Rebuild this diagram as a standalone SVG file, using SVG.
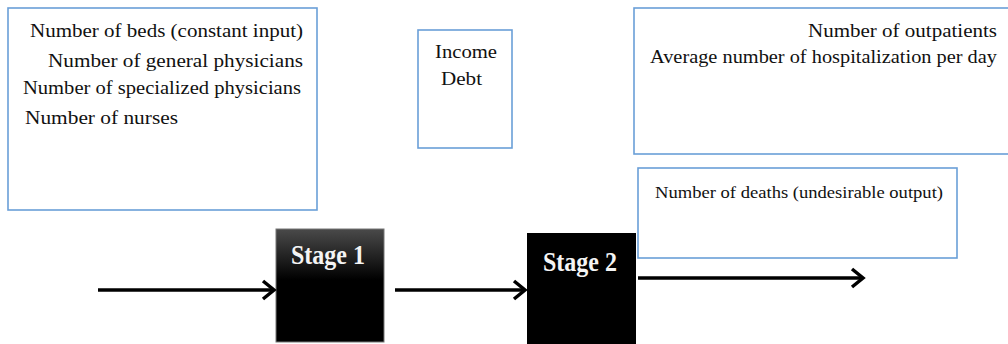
<svg xmlns="http://www.w3.org/2000/svg" width="1008" height="344" viewBox="0 0 1008 344">
<style>
.box{fill:#fff;stroke:#6a9fd8;stroke-width:1.6}
.t{font-family:"Liberation Serif","Times New Roman",serif;font-size:19px;fill:#111}
.ts{font-family:"Liberation Serif","Times New Roman",serif;font-size:27px;font-weight:bold;fill:#f4f4f4}
.arr{stroke:#000;stroke-width:3.5;fill:none}
</style>
<defs>
<linearGradient id="g1" x1="0" y1="0" x2="0" y2="1">
<stop offset="0" stop-color="#4a4a4a"/>
<stop offset="0.45" stop-color="#000"/>
<stop offset="1" stop-color="#000"/>
</linearGradient>
<marker id="ah" markerUnits="userSpaceOnUse" markerWidth="20" markerHeight="24" refX="14" refY="12" orient="auto" viewBox="0 0 20 24">
<path d="M3 3 L14 12 L3 21" fill="none" stroke="#000" stroke-width="3.5"/>
</marker>
</defs>
<g id="inputs">
<rect class="box" x="8" y="8" width="309" height="202"/>
<text class="t" x="30" y="37" textLength="273" lengthAdjust="spacingAndGlyphs">Number of beds (constant input)</text>
<text class="t" x="48" y="67" textLength="255" lengthAdjust="spacingAndGlyphs">Number of general physicians</text>
<text class="t" x="23" y="94" textLength="278" lengthAdjust="spacingAndGlyphs">Number of specialized physicians</text>
<text class="t" x="25" y="124" textLength="153" lengthAdjust="spacingAndGlyphs">Number of nurses</text>
</g>
<g id="intermediate">
<rect class="box" x="418" y="30" width="94" height="118"/>
<text class="t" x="435" y="58" textLength="62" lengthAdjust="spacingAndGlyphs">Income</text>
<text class="t" x="441" y="85" textLength="41" lengthAdjust="spacingAndGlyphs">Debt</text>
</g>
<g id="outputs">
<rect class="box" x="634" y="8" width="380" height="146"/>
<text class="t" x="808" y="37" textLength="189" lengthAdjust="spacingAndGlyphs">Number of outpatients</text>
<text class="t" x="650" y="63" textLength="347" lengthAdjust="spacingAndGlyphs">Average number of hospitalization per day</text>
</g>
<g id="undesirable">
<rect class="box" x="638" y="168" width="319" height="90"/>
<text class="t" x="655" y="198" style="font-size:17px" textLength="288" lengthAdjust="spacingAndGlyphs">Number of deaths (undesirable output)</text>
</g>
<g id="stage1">
<rect x="276" y="229" width="108" height="113" fill="url(#g1)" stroke="#777" stroke-width="1"/>
<text class="ts" x="291" y="264" textLength="74" lengthAdjust="spacingAndGlyphs">Stage 1</text>
</g>
<g id="stage2">
<rect x="527" y="233" width="109" height="115" fill="#000"/>
<text class="ts" x="543" y="271" textLength="74" lengthAdjust="spacingAndGlyphs">Stage 2</text>
</g>
<g id="connectors">
<line class="arr" x1="98" y1="290" x2="274" y2="290" marker-end="url(#ah)"/>
<line class="arr" x1="395" y1="290" x2="525" y2="290" marker-end="url(#ah)"/>
<line class="arr" x1="638" y1="278" x2="863" y2="278" marker-end="url(#ah)"/>
</g>
</svg>
